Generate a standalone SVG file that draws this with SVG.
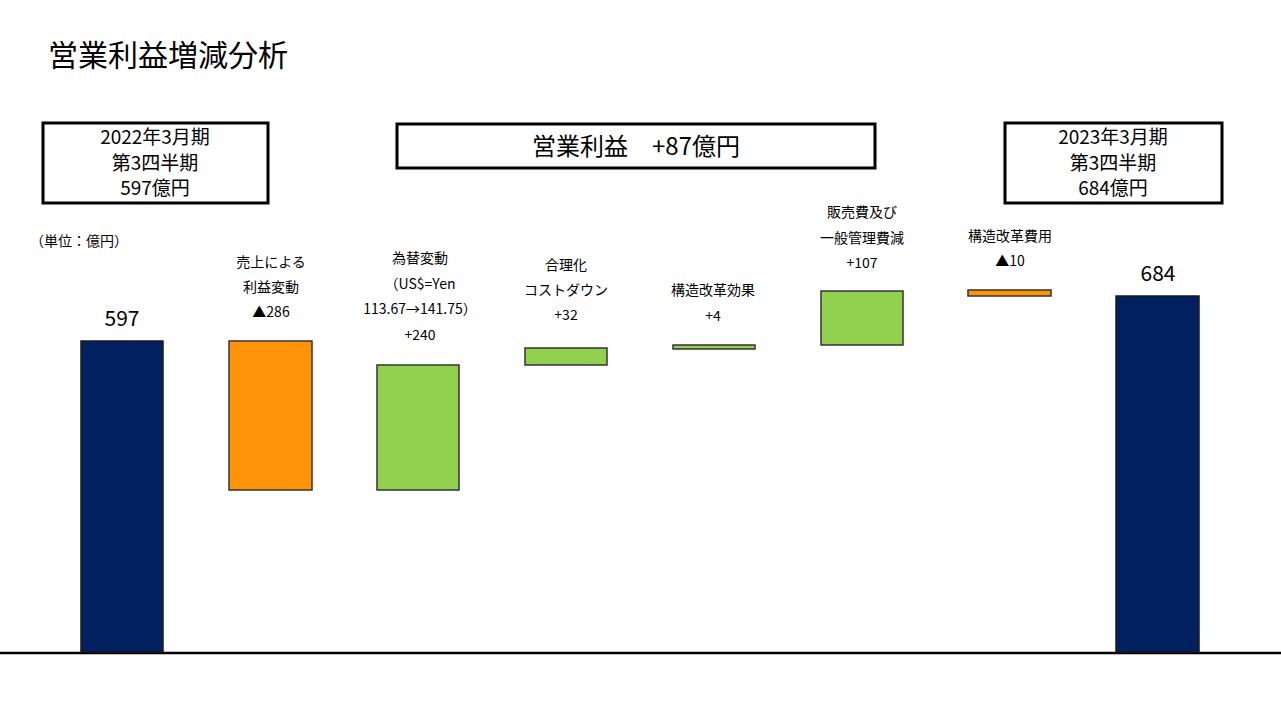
<svg xmlns="http://www.w3.org/2000/svg" width="1281" height="720" viewBox="0 0 1281 720">
<style>
text{font-family:"Noto Sans CJK JP","Liberation Sans",sans-serif;fill:#000}
.box{fill:#fff;stroke:#000;stroke-width:3}
.bt{font-size:19px;text-anchor:middle}
.lb{font-size:14px;text-anchor:middle}
.big{font-size:21px;text-anchor:middle}
.navy{fill:#002060;stroke:#1a1a1a;stroke-width:1.5}
.or{fill:#FF9408;stroke:#333;stroke-width:1.5}
.gr{fill:#92D050;stroke:#333;stroke-width:1.5}
</style>
<rect width="1281" height="720" fill="#fff"/>
<text x="48" y="66" font-size="30">営業利益増減分析</text>
<g id="box2022"><rect class="box" x="43" y="123" width="225" height="80"/>
<text class="bt" x="155" y="144">2022年3月期</text><text class="bt" x="155" y="170">第3四半期</text><text class="bt" x="155" y="195">597億円</text></g>
<g id="boxTotal"><rect class="box" x="397" y="124" width="478" height="44"/>
<text x="636" y="155" font-size="24" text-anchor="middle">営業利益　+87億円</text></g>
<g id="box2023"><rect class="box" x="1005" y="123" width="217" height="80"/>
<text class="bt" x="1113" y="144">2023年3月期</text><text class="bt" x="1113" y="170">第3四半期</text><text class="bt" x="1113" y="195">684億円</text></g>
<text x="30" y="246" font-size="14">（単位：億円）</text>
<g id="connectors"><line x1="0" y1="653" x2="1281" y2="653" stroke="#000" stroke-width="2.5"/></g>
<g id="bar597"><rect class="navy" x="81" y="341" width="82" height="311"/><text class="big" x="122" y="326">597</text></g>
<g id="bar1"><rect class="or" x="229" y="341" width="83" height="149"/>
<text class="lb" x="271" y="267">売上による</text><text class="lb" x="271" y="292">利益変動</text><text class="lb" x="271" y="317">▲286</text></g>
<g id="bar2"><rect class="gr" x="377" y="365" width="82" height="125"/>
<text class="lb" x="420" y="263">為替変動</text><text class="lb" x="420" y="289">（US$=Yen</text><text class="lb" x="420" y="314">113.67→141.75）</text><text class="lb" x="420" y="340">+240</text></g>
<g id="bar3"><rect class="gr" x="525" y="348" width="82" height="17"/>
<text class="lb" x="566" y="270">合理化</text><text class="lb" x="566" y="295">コストダウン</text><text class="lb" x="566" y="320">+32</text></g>
<g id="bar4"><rect class="gr" x="673" y="345" width="82" height="4"/>
<text class="lb" x="713" y="295">構造改革効果</text><text class="lb" x="713" y="321">+4</text></g>
<g id="bar5"><rect class="gr" x="821" y="291" width="82" height="54"/>
<text class="lb" x="862" y="217">販売費及び</text><text class="lb" x="862" y="243">一般管理費減</text><text class="lb" x="862" y="268">+107</text></g>
<g id="bar6"><rect class="or" x="968" y="290" width="83" height="6"/>
<text class="lb" x="1010" y="241">構造改革費用</text><text class="lb" x="1010" y="266">▲10</text></g>
<g id="bar684"><rect class="navy" x="1116" y="296" width="83" height="356"/><text class="big" x="1158" y="281">684</text></g>
</svg>
